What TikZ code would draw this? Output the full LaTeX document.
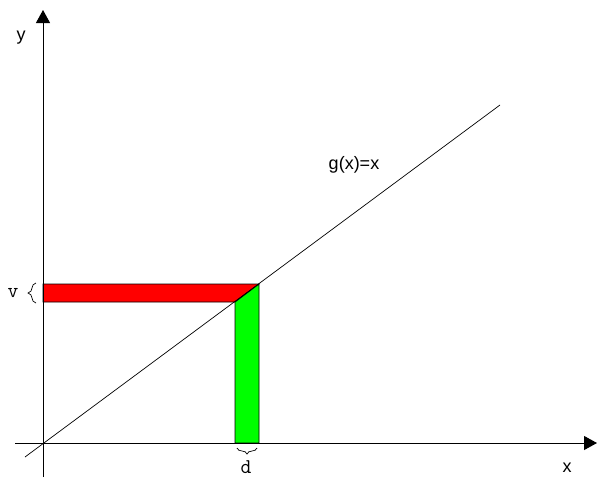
\documentclass[tikz,border=0pt]{standalone}
\usepackage{fontspec}
\setmainfont{Liberation Sans}
\usetikzlibrary{arrows.meta,decorations.pathreplacing}

\begin{document}
\begin{tikzpicture}
  [x=1pt,y=-1pt,
  axis/.style={line width=1pt,-{Triangle[width=14pt,length=13pt]}},
  strip/.style={draw=black,line width=0.8pt},
  lbl/.style={anchor=base,inner sep=0pt,font=\fontsize{18}{20}\selectfont},
  mono/.style={anchor=base,inner sep=0pt,font=\fontsize{21}{22}\selectfont\ttfamily},
  brc/.style={decorate,decoration={brace,amplitude=#1},line width=0.7pt}]

  \useasboundingbox (0,0) rectangle (597,477);

  \draw[strip,fill=red] (43,284) -- (259,284) -- (235,302) -- (43,302) -- cycle;
  \draw[strip,fill=green] (235,302) -- (259,284) -- (259,443) -- (235,443) -- cycle;

  \draw[axis] (15,443) -- (597,443);
  \draw[axis] (43,477) -- (43,10);

  \draw[line width=0.7pt] (25,457) -- (500,105);

  \draw[brc=8pt] (36,303) -- (36,283);
  \draw[brc=6pt] (257,448) -- (237,448);

  \node[lbl] (ylabel) at (21,40) {y};
  \node[lbl] (xlabel) at (567,472) {x};
  \node[lbl] (glabel) at (354,169) {g(x)=x};
  \node[mono] (vlabel) at (13,297) {v};
  \node[mono] (dlabel) at (246,473) {d};

\end{tikzpicture}
\end{document}
